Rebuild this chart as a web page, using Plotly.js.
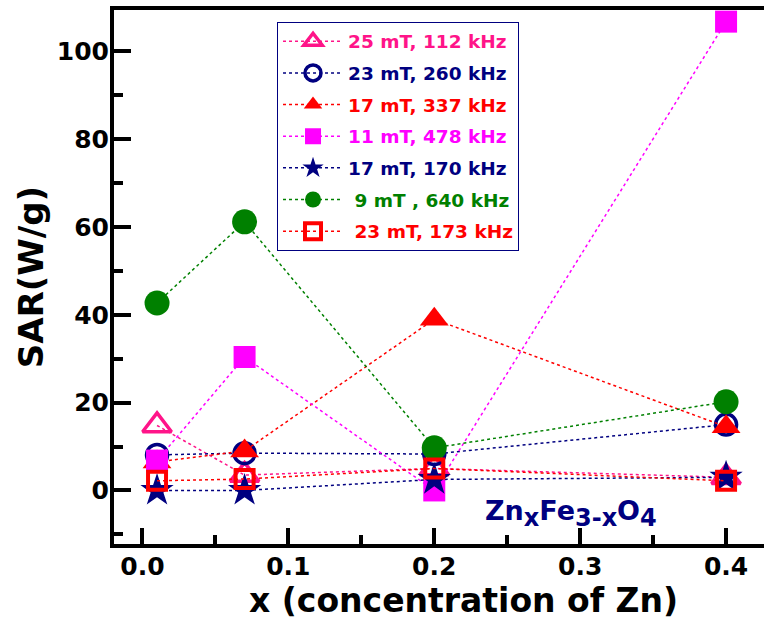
<!DOCTYPE html>
<html>
<head>
<meta charset="utf-8">
<script src="https://cdn.plot.ly/plotly-3.0.1.min.js"></script>
<style>html,body{margin:0;padding:0;background:#fff;}#chart{width:764px;height:619px;}</style>
</head>
<body>
<div id="chart"></div>
<script>
// x positions (Zn concentration)
const xVals = [0.01, 0.07, 0.2, 0.4];

// series names
const names = [
  "25 mT, 112 kHz",
  "23 mT, 260 kHz",
  "17 mT, 337 kHz",
  "11 mT, 478 kHz",
  "17 mT, 170 kHz",
  "\u00A09 mT , 640 kHz",
  "\u00A023 mT, 173 kHz"
];

// SAR values (W/g)
const sar25mT112 = [14.8, 3.5, 5.0, 3.0];
const sar23mT260 = [8.1, 8.5, 8.3, 15.0];
const sar17mT337 = [6.5, 9.0, 39.0, 14.5];
const sar11mT478 = [6.8, 30.4, 0.0, 106.8];
const sar17mT170 = [0.0, 0.0, 2.5, 3.0];
const sar9mT640  = [42.7, 61.2, 9.7, 20.2];
const sar23mT173 = [2.2, 2.6, 5.0, 2.2];

const seriesValues = [sar25mT112, sar23mT260, sar17mT337, sar11mT478, sar17mT170, sar9mT640, sar23mT173];
const colors = ["#ff1489", "#000080", "#ff0000", "#ff00ff", "#000080", "#008000", "#ff0000"];
const symbols = ["triangle-up-open", "circle-open", "triangle-up", "square", "star", "circle", "square-open"];
const sizes = [25, 21, 25, 22, 25, 25, 18];
const lineW = [3.5, 3.5, 0, 0, 0, 0, 4];

const yTicks = [0, 20, 40, 60, 80, 100];
const xTicks = [0.0, 0.1, 0.2, 0.3, 0.4];
const xTickText = ["0.0", "0.1", "0.2", "0.3", "0.4"];

const traces = seriesValues.map((vals, i) => ({
  type: "scatter",
  mode: "lines+markers",
  x: xVals,
  y: vals,
  name: '<span style="color:' + colors[i] + '">' + names[i] + '</span>',
  legendgroup: "g" + i,
  line: {color: colors[i], width: 1.5, dash: "dot"},
  marker: {
    symbol: symbols[i],
    size: sizes[i],
    color: colors[i],
    line: {color: colors[i], width: lineW[i]}
  }
}));

const font = {family: "DejaVu Sans", weight: 700, color: "#000"};

const layout = {
  width: 764,
  height: 619,
  margin: {l: 114, r: 0, t: 10, b: 75},
  paper_bgcolor: "#fff",
  plot_bgcolor: "#fff",
  showlegend: true,
  font: font,
  xaxis: {
    range: [-0.0195, 0.426],
    tickvals: xTicks,
    ticktext: xTickText,
    ticks: "inside",
    ticklen: 16,
    tickwidth: 4,
    tickcolor: "#000",
    ticklabelstandoff: -3,
    minor: {dtick: 0.05, ticks: "inside", ticklen: 9, tickwidth: 4, tickcolor: "#000"},
    showline: true,
    linewidth: 4,
    linecolor: "#000",
    mirror: true,
    showgrid: false,
    zeroline: false,
    tickfont: {family: "DejaVu Sans", weight: 700, size: 25, color: "#000"}
  },
  yaxis: {
    range: [-12.2, 109.45],
    tickvals: yTicks,
    ticks: "inside",
    ticklen: 17,
    tickwidth: 4,
    tickcolor: "#000",
    ticklabelstandoff: -4,
    minor: {dtick: 10, ticks: "inside", ticklen: 9, tickwidth: 4, tickcolor: "#000"},
    showline: true,
    linewidth: 4,
    linecolor: "#000",
    showgrid: false,
    zeroline: false,
    tickfont: {family: "DejaVu Sans", weight: 700, size: 25, color: "#000"},
    title: {text: "SAR(W/g)", standoff: 4, font: {family: "DejaVu Sans", weight: 700, size: 34, color: "#000"}}
  },
  legend: {
    x: 0.2508,
    y: 0.978,
    xanchor: "left",
    yanchor: "top",
    bgcolor: "#fff",
    bordercolor: "#000080",
    borderwidth: 1,
    itemwidth: 60,
    tracegroupgap: 4.6,
    font: {family: "DejaVu Sans", weight: 700, size: 18.5}
  },
  annotations: [
    {
      xref: "paper", yref: "paper",
      x: 0.538, y: -0.105,
      xanchor: "center", yanchor: "middle",
      text: "x (concentration of Zn)",
      showarrow: false,
      font: {family: "DejaVu Sans", weight: 700, size: 33, color: "#000"}
    },
    {
      xref: "paper", yref: "paper",
      x: 0.703, y: 0.058,
      xanchor: "center", yanchor: "middle",
      text: "Zn<sub><span style=\"font-size:24px\">x</span></sub>Fe<sub><span style=\"font-size:24px\">3-x</span></sub>O<sub><span style=\"font-size:24px\">4</span></sub>",
      showarrow: false,
      font: {family: "DejaVu Sans", weight: 700, size: 27, color: "#000080"}
    }
  ]
};

Plotly.newPlot("chart", traces, layout, {displayModeBar: false, staticPlot: true});
</script>
</body>
</html>
